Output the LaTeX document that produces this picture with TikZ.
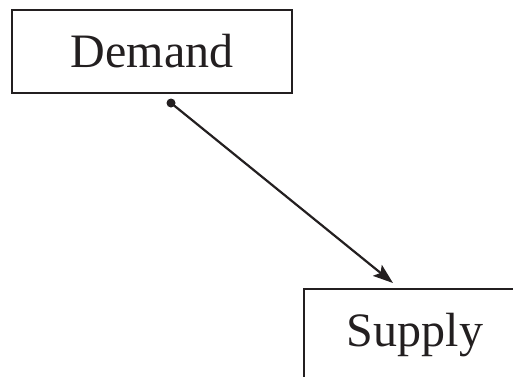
\documentclass[tikz,border=0pt]{standalone}
\usepackage{fontspec}
\setmainfont{Liberation Serif}
\usetikzlibrary{arrows.meta,positioning}
\definecolor{ink}{RGB}{35,31,32}
\begin{document}
\begin{tikzpicture}[x=1pt,y=-1pt,
    box/.style={draw=ink,line width=2.8pt,inner sep=0pt,text=ink,font=\fontsize{48}{58}\selectfont}]
    \useasboundingbox (0,0) rectangle (513,376);
    \clip (0,0) rectangle (513,376);
    \coordinate (tail) at (171,103);
    \coordinate (head) at (393,283);
    \node[box,minimum width=280pt,minimum height=83pt] (demand) at (152,51.5) {Demand};
    \node[box,minimum width=222pt,minimum height=92pt,text width=222pt,align=center] (supply) at (415,335) {Supply};
    \fill[ink](tail) circle (4.5pt);
    \draw[line width=2.2pt,ink,-{Stealth[length=20pt,width=14pt,inset=4pt]}](tail)--(head);
  \end{tikzpicture}
\end{document}
